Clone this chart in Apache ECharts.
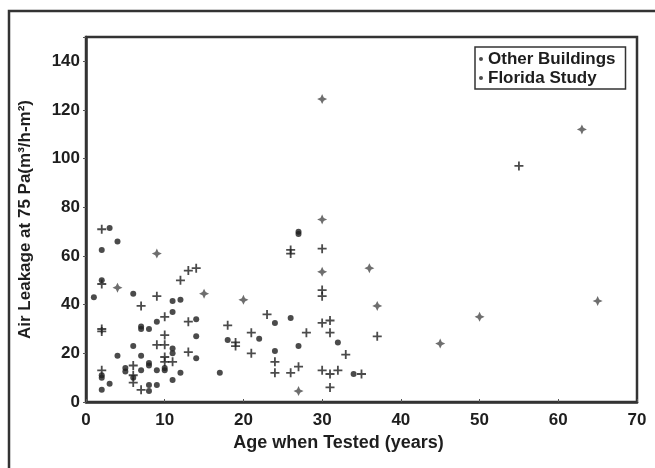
<!DOCTYPE html>
<html>
<head>
<meta charset="utf-8">
<script src="https://cdn.jsdelivr.net/npm/echarts@6/dist/echarts.min.js"></script>
<style>
  html, body { margin: 0; padding: 0; background: #fff; }
  #main { width: 655px; height: 468px; }
</style>
</head>
<body>
<div id="main"></div>
<script>
// age (years), air leakage at 75 Pa
var otherBuildings = [
    [4, 47], [9, 61], [15, 44.5], [20, 42], [27, 4.5], [30, 124.5], [30, 75],
    [30, 53.5], [36, 55], [37, 39.5], [45, 24], [50, 35], [63, 112], [65, 41.5]
];
var floridaDots = [
    [3, 71.5], [4, 66], [2, 62.5], [2, 50], [1, 43], [6, 44.5], [11, 41.5], [12, 42],
    [11, 37], [9, 33], [14, 34], [7, 31], [7, 30], [8, 30], [14, 27], [6, 23], [4, 19],
    [7, 19], [11, 22], [11, 20], [14, 18], [10, 14], [10, 13], [8, 16], [8, 15], [5, 14],
    [5, 12.5], [7, 13], [9, 13], [12, 12], [2, 11], [2, 10], [6, 10], [3, 7.5], [11, 9],
    [8, 7], [9, 7], [2, 5], [8, 4.5],
    [27, 70], [27, 69], [26, 34.5], [24, 32.5], [22, 26], [18, 25.5], [27, 23], [24, 21],
    [17, 12], [32, 24.5], [34, 11.5]
];
var floridaPlus = [
    [2, 71], [13, 54], [14, 55], [12, 50], [2, 48.5], [9, 43.5], [7, 39.5], [10, 35],
    [13, 33], [2, 30], [2, 29], [10, 27.5], [9, 23.5], [10, 23.5], [13, 20.5], [10, 18.5],
    [10, 16.5], [11, 16.5], [6, 15], [2, 13], [6, 11], [6, 8], [7, 5],
    [26, 62.5], [26, 61], [30, 63], [30, 46], [30, 43.5], [23, 36], [18, 31.5], [30, 32.5],
    [31, 33.5], [21, 28.5], [28, 28.5], [31, 28.5], [19, 24.5], [19, 23], [21, 20],
    [24, 16.5], [24, 12], [26, 12], [27, 14.5], [30, 13], [31, 11.5], [32, 13], [33, 19.5],
    [35, 11.5], [31, 6], [37, 27], [55, 97]
];

var font = 'Liberation Sans, Arial, sans-serif';
var ink = '#1e1e1e';
var starPath = 'path://M0,-10 L3.2,-3.2 L10,0 L3.2,3.2 L0,10 L-3.2,3.2 L-10,0 L-3.2,-3.2 Z';
var plusPath = 'path://M-10,-2 H10 V2 H-10 Z M-2,-10 H2 V10 H-2 Z';

var myChart = echarts.init(document.getElementById('main'));
var option = {
    backgroundColor: '#fff',
    animation: false,
    graphic: [{
        type: 'rect',
        shape: { x: 9, y: 11, width: 700, height: 520 },
        style: { fill: 'none', stroke: '#333', lineWidth: 2.5 },
        z: -1
    }],
    legend: {
        data: ['Other Buildings', 'Florida Study'],
        orient: 'vertical',
        left: 475,
        top: 47,
        padding: [3, 10, 2, 4],
        borderColor: '#333',
        borderWidth: 1.5,
        itemGap: 1,
        itemWidth: 4,
        itemHeight: 4,
        icon: 'circle',
        itemStyle: { color: ink },
        textStyle: { fontFamily: font, fontWeight: 'bold', fontSize: 17, color: ink, lineHeight: 18 }
    },
    grid: {
        left: 86, top: 37, right: 18, bottom: 66,
        show: true, borderColor: '#333', borderWidth: 2.5
    },
    xAxis: {
        type: 'value',
        min: 0, max: 70, interval: 10,
        name: 'Age when Tested (years)',
        nameLocation: 'middle',
        nameGap: 29,
        nameTextStyle: { fontFamily: font, fontWeight: 'bold', fontSize: 18, color: ink, padding: [0, 46, 0, 0] },
        axisLine: { lineStyle: { color: '#333', width: 2.5 } },
        axisTick: { length: 3, inside: true, lineStyle: { color: '#555' } },
        axisLabel: { margin: 10, fontFamily: font, fontWeight: 'bold', fontSize: 17, color: ink },
        splitLine: { show: false }
    },
    yAxis: {
        type: 'value',
        min: 0, max: 150, interval: 20,
        name: 'Air Leakage at 75 Pa(m³/h-m²)',
        nameLocation: 'middle',
        nameGap: 52,
        nameTextStyle: { fontFamily: font, fontWeight: 'bold', fontSize: 17, color: ink },
        axisLine: { lineStyle: { color: '#333', width: 2.5 } },
        axisTick: { length: 3, lineStyle: { color: '#555' } },
        axisLabel: {
            margin: 6, fontFamily: font, fontWeight: 'bold', fontSize: 17, color: ink,
            formatter: function (v) { return v > 140 ? '' : v; }
        },
        splitLine: { show: false }
    },
    series: [
        {
            name: 'Other Buildings',
            type: 'scatter',
            data: otherBuildings,
            symbol: starPath,
            symbolSize: 10,
            itemStyle: { color: '#4a4a4a' }
        },
        {
            name: 'Florida Study',
            type: 'scatter',
            data: floridaDots,
            symbol: 'circle',
            symbolSize: 6,
            itemStyle: { color: ink }
        },
        {
            name: 'Florida Study',
            type: 'scatter',
            data: floridaPlus,
            symbol: plusPath,
            symbolSize: 9,
            itemStyle: { color: ink }
        }
    ]
};
myChart.setOption(option);
</script>
</body>
</html>
